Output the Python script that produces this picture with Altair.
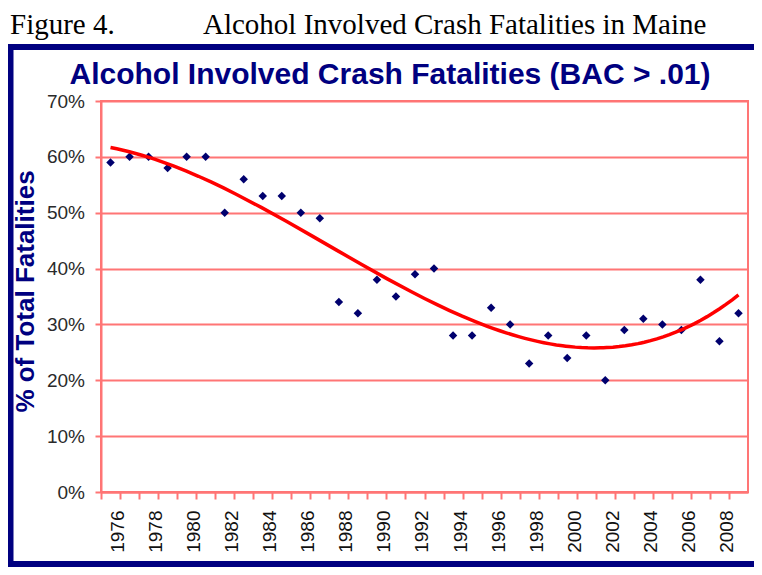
import altair as alt
import pandas as pd

# ---- data ----
years = list(range(1976, 2010))
pct = [59, 60, 60, 58, 60, 60, 50, 56, 53, 53, 50, 49, 34, 32, 38, 35, 39,
       40, 28, 28, 33, 30, 23, 28, 24, 28, 20, 29, 31, 30, 29, 38, 27, 32]
y_ticks = [0, 10, 20, 30, 40, 50, 60, 70]
fig_label = "Figure 4."
fig_caption = "Alcohol Involved Crash Fatalities in Maine"
chart_title = "Alcohol Involved Crash Fatalities (BAC > .01)"
y_title = "% of Total Fatalities"

df = pd.DataFrame({"year": years, "pct": pct})

NAVY = "#000080"
GRID = "#ff7575"
SANS = "Liberation Sans"
PW, PH = 647, 391

xenc = alt.X(
    "year:Q",
    scale=alt.Scale(domain=[1975.5, 2009.5], nice=False, zero=False),
    axis=alt.Axis(
        values=years, format="d",
        labelExpr="datum.value % 2 == 0 ? datum.label : ''",
        labelAngle=270, labelFont=SANS, labelFontSize=19, labelColor="#111111",
        labelPadding=11, labelOffset=16.5, tickOffset=-9.5,
        tickSize=7, tickColor=GRID, tickWidth=2,
        domainColor=GRID, domainWidth=2, grid=False,
        labelFlush=False, labelOverlap=False, labelBound=False, title=None,
    ),
)
yenc = alt.Y(
    "pct:Q",
    scale=alt.Scale(domain=[0, 70], nice=False, zero=True),
    axis=alt.Axis(
        values=y_ticks, labelExpr="datum.value + '%'",
        labelFont=SANS, labelFontSize=19, labelColor="#2a2a2a", labelPadding=10.5,
        tickSize=6, tickColor=GRID, tickWidth=2,
        domainColor=GRID, domainWidth=2,
        grid=True, gridColor=GRID, gridWidth=2, labelFlush=False,
        title=y_title, titleFont=SANS, titleFontSize=26, titleFontWeight="bold",
        titleColor=NAVY, titleAngle=270, titleAlign="center",
        titleBaseline="alphabetic", titleX=-68, titleY=190,
    ),
)

base = alt.Chart(df)

points = base.mark_point(shape="diamond", filled=True, size=72,
                         color="#00006e", opacity=1).encode(x=xenc, y=yenc)

trend = base.transform_regression("year", "pct", method="poly", order=3).mark_line(
    color="#ff0000", strokeWidth=3.5).encode(x=xenc, y=yenc)

frame = alt.Chart(pd.DataFrame({"f": [0]})).mark_rect(
    fillOpacity=0, stroke=NAVY, strokeWidth=6).encode(
    x=alt.value(-90.5), x2=alt.value(700), y=alt.value(-54), y2=alt.value(463))

hdr1 = alt.Chart(pd.DataFrame({"t": [fig_label]})).mark_text(
    font="Liberation Serif", fontSize=29, align="left", baseline="alphabetic",
    color="black").encode(text="t:N", x=alt.value(-91), y=alt.value(-67))

hdr2 = alt.Chart(pd.DataFrame({"t": [fig_caption]})).mark_text(
    font="Liberation Serif", fontSize=29, align="left", baseline="alphabetic",
    color="black").encode(text="t:N", x=alt.value(102), y=alt.value(-67))

ttl = alt.Chart(pd.DataFrame({"t": [chart_title]})).mark_text(
    font=SANS, fontSize=30, fontWeight="bold", align="center", baseline="alphabetic",
    color=NAVY).encode(text="t:N", x=alt.value(289), y=alt.value(-17))

chart = alt.layer(frame, hdr1, hdr2, ttl, points, trend).properties(
    width=PW, height=PH, autosize="none",
    padding={"left": 93, "top": 93, "right": 6, "bottom": 75},
    background="white",
).configure_view(stroke=GRID, strokeWidth=2)

chart.save("out.html", embed_options={"renderer": "svg", "actions": False})
